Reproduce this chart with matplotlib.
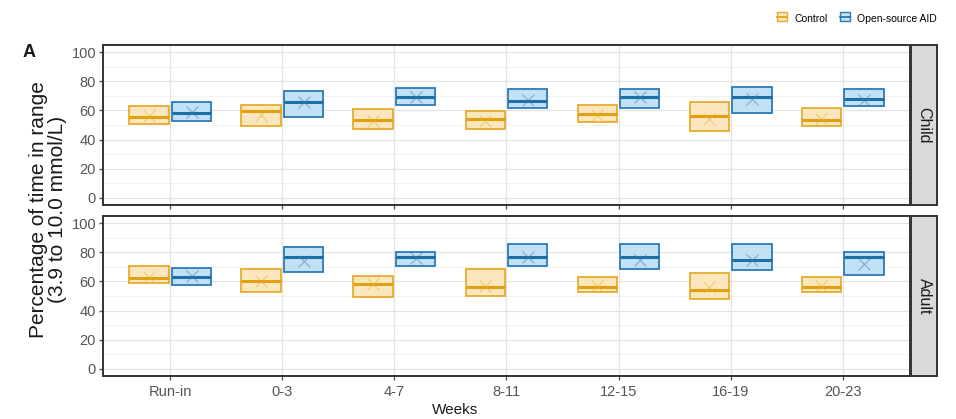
import matplotlib

matplotlib.use("Agg")
import matplotlib.pyplot as plt
from matplotlib.patches import Rectangle
from matplotlib.lines import Line2D
from matplotlib.legend_handler import HandlerBase

weeks = ["Run-in", "0-3", "4-7", "8-11", "12-15", "16-19", "20-23"]
groups = ["Control", "Open-source AID"]
panels = ["Child", "Adult"]

# quartiles / median / mean, per panel and group
child_control_q1 = [51, 49, 47, 47, 52, 46, 49]
child_control_med = [55.5, 59.5, 53.5, 54, 57.5, 56, 53.5]
child_control_q3 = [63, 64, 61, 59.5, 64, 66, 61.5]
child_control_mean = [56, 57, 53, 53, 57, 54, 54]
child_aid_q1 = [53, 55.5, 63.5, 61.5, 61.5, 58, 63]
child_aid_med = [58, 66, 69, 66.5, 69, 69, 68]
child_aid_q3 = [66, 73.5, 75.5, 74.5, 74.5, 76, 74.5]
child_aid_mean = [59, 66, 69, 67, 69, 68, 67]

adult_control_q1 = [59, 52.5, 49, 50, 52.5, 48, 53]
adult_control_med = [62.5, 60.5, 58, 56.5, 56.5, 54, 56.5]
adult_control_q3 = [70.5, 68.5, 63.5, 68.5, 63, 66, 63]
adult_control_mean = [63, 60, 58, 57, 57, 56, 57]
adult_aid_q1 = [57.5, 66.5, 70.5, 70.5, 68.5, 68, 64.5]
adult_aid_med = [63, 77, 77, 77, 77, 74.5, 76.5]
adult_aid_q3 = [69, 84, 80, 86, 85.5, 85.5, 80]
adult_aid_mean = [64, 74, 76, 77, 75, 75, 72]

data = {
    ("Child", "Control"): (child_control_q1, child_control_med, child_control_q3, child_control_mean),
    ("Child", "Open-source AID"): (child_aid_q1, child_aid_med, child_aid_q3, child_aid_mean),
    ("Adult", "Control"): (adult_control_q1, adult_control_med, adult_control_q3, adult_control_mean),
    ("Adult", "Open-source AID"): (adult_aid_q1, adult_aid_med, adult_aid_q3, adult_aid_mean),
}

edge = {"Control": "#E6AC2E", "Open-source AID": "#2B7BB9"}
fill = {"Control": "#FCE6BE", "Open-source AID": "#C3E1F4"}
med_col = {"Control": "#E0A010", "Open-source AID": "#1D6FA8"}
offset = {"Control": -0.19, "Open-source AID": 0.19}

plt.rcParams["font.family"] = ["Liberation Sans", "DejaVu Sans"]
tick_col = "#555555"

fig = plt.figure(figsize=(9.56, 4.19), dpi=100)
ax_top = fig.add_axes([0.1077, 0.5107, 0.8442, 0.3819])
ax_bot = fig.add_axes([0.1077, 0.1026, 0.8442, 0.3819])

for ax, panel in [(ax_top, "Child"), (ax_bot, "Adult")]:
    ax.set_xlim(0.4, 7.6)
    ax.set_ylim(-5, 105)
    for y in range(0, 101, 20):
        ax.axhline(y, color="#E3E3E3", lw=0.9, zorder=0)
    for y in range(10, 100, 20):
        ax.axhline(y, color="#F0F0F0", lw=0.6, zorder=0)
    for i in range(1, 8):
        ax.axvline(i, color="#E3E3E3", lw=0.9, zorder=0)

    for g in groups:
        q1, med, q3, mean = data[(panel, g)]
        stats = [
            {"q1": a, "med": m, "q3": b, "mean": mu, "whislo": a, "whishi": b, "fliers": []}
            for a, m, b, mu in zip(q1, med, q3, mean)
        ]
        pos = [i + 1 + offset[g] for i in range(len(weeks))]
        ax.bxp(
            stats,
            positions=pos,
            widths=0.35,
            patch_artist=True,
            showmeans=True,
            showcaps=False,
            manage_ticks=False,
            boxprops=dict(facecolor=fill[g], edgecolor=edge[g], linewidth=1.3),
            medianprops=dict(color=med_col[g], linewidth=2.2),
            whiskerprops=dict(linewidth=0),
            meanprops=dict(marker="x", markeredgecolor=edge[g], markersize=8,
                           markeredgewidth=0.8, alpha=0.5),
        )

    ax.set_yticks(range(0, 101, 20))
    ax.set_xticks(range(1, 8))
    ax.tick_params(axis="y", labelsize=10.5, colors=tick_col, length=3, width=1, pad=2)
    ax.tick_params(axis="x", length=3, width=1, colors=tick_col)
    for s in ax.spines.values():
        s.set_color("#333333")
        s.set_linewidth(1.4)

    # facet strip on the right
    strip = fig.add_axes([0.953, ax.get_position().y0, 0.0272, 0.3819])
    strip.add_patch(Rectangle((0, 0), 1, 1, transform=strip.transAxes,
                              facecolor="#D9D9D9", edgecolor="none"))
    strip.set_xticks([])
    strip.set_yticks([])
    for s in strip.spines.values():
        s.set_color("#333333")
        s.set_linewidth(1.4)
    strip.text(0.5, 0.5, panel, rotation=-90, ha="center", va="center",
               fontsize=11.5, color="#1A1A1A", transform=strip.transAxes)

ax_top.set_xticklabels([])
ax_bot.set_xticklabels(weeks, fontsize=10.5, color=tick_col)

fig.text(0.476, 0.005, "Weeks", ha="center", va="bottom", fontsize=11,
         color="#1A1A1A")
fig.text(0.050, 0.50, "Percentage of time in range\n(3.9 to 10.0 mmol/L)",
         rotation=90, ha="center", va="center", fontsize=15, color="#1A1A1A",
         linespacing=1.0)
fig.text(0.024, 0.865, "A", fontsize=13, fontweight="bold", color="#1A1A1A")


class BoxHandler(HandlerBase):
    def create_artists(self, legend, orig, xd, yd, w, h, fs, trans):
        g = orig.get_label()
        r = Rectangle((xd + w * 0.2, yd), w * 0.6, h, facecolor=fill[g],
                      edgecolor=edge[g], lw=1.0, transform=trans)
        ln = Line2D([xd + w * 0.2, xd + w * 0.8], [yd + h / 2, yd + h / 2],
                    color=med_col[g], lw=1.2, transform=trans)
        return [r, ln]


handles = [Line2D([], [], label=g) for g in groups]
fig.legend(handles=handles, labels=groups, loc="upper right",
           bbox_to_anchor=(0.99, 0.99), ncol=2, frameon=False, fontsize=7.5,
           handler_map={Line2D: BoxHandler()}, handlelength=1.6,
           handleheight=0.9, columnspacing=0.8, handletextpad=0.4)

fig.savefig("out.png", dpi=100)
